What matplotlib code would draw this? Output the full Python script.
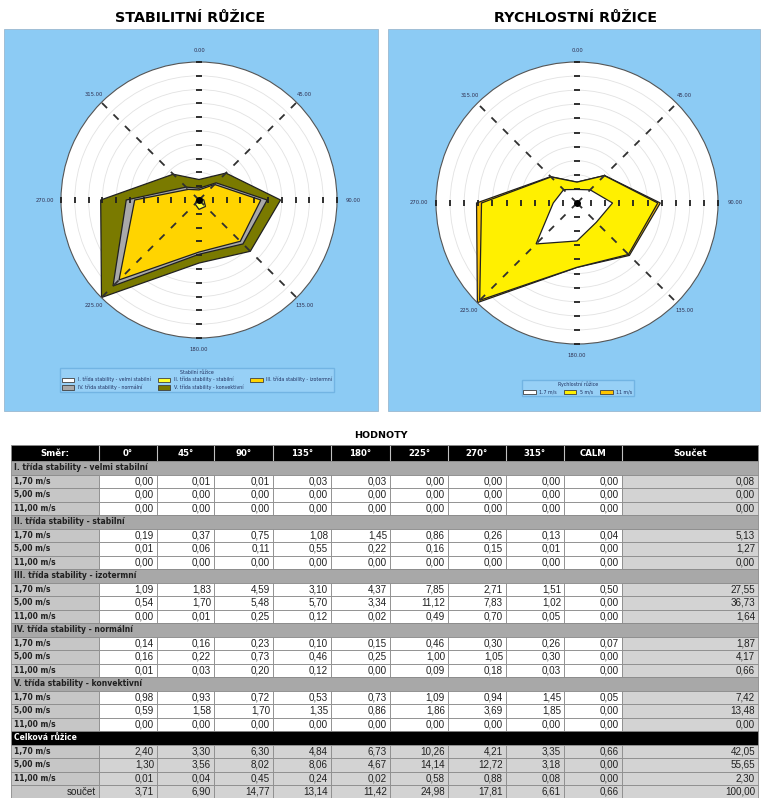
import numpy as np
import matplotlib
matplotlib.use('Agg')
import matplotlib.pyplot as plt
from matplotlib.patches import Rectangle, Patch

# --- data -------------------------------------------------------------
directions = [0, 45, 90, 135, 180, 225, 270, 315]
col_labels = ['Směr:', '0°', '45°', '90°', '135°', '180°', '225°', '270°', '315°', 'CALM', 'Součet']
speed_labels = ['1,70 m/s', '5,00 m/s', '11,00 m/s']
speed_legend = ['1.7 m/s', '5 m/s', '11 m/s']
class_names = ['I. třída stability - velmi stabilní',
               'II. třída stability - stabilní',
               'III. třída stability - izotermní',
               'IV. třída stability - normální',
               'V. třída stability - konvektivní']

# rows = 1.7, 5, 11 m/s ; columns = 0..315 deg + CALM
cls1 = [[0.00, 0.01, 0.01, 0.03, 0.03, 0.00, 0.00, 0.00, 0.00],
        [0.00, 0.00, 0.00, 0.00, 0.00, 0.00, 0.00, 0.00, 0.00],
        [0.00, 0.00, 0.00, 0.00, 0.00, 0.00, 0.00, 0.00, 0.00]]
cls2 = [[0.19, 0.37, 0.75, 1.08, 1.45, 0.86, 0.26, 0.13, 0.04],
        [0.01, 0.06, 0.11, 0.55, 0.22, 0.16, 0.15, 0.01, 0.00],
        [0.00, 0.00, 0.00, 0.00, 0.00, 0.00, 0.00, 0.00, 0.00]]
cls3 = [[1.09, 1.83, 4.59, 3.10, 4.37, 7.85, 2.71, 1.51, 0.50],
        [0.54, 1.70, 5.48, 5.70, 3.34, 11.12, 7.83, 1.02, 0.00],
        [0.00, 0.01, 0.25, 0.12, 0.02, 0.49, 0.70, 0.05, 0.00]]
cls4 = [[0.14, 0.16, 0.23, 0.10, 0.15, 0.46, 0.30, 0.26, 0.07],
        [0.16, 0.22, 0.73, 0.46, 0.25, 1.00, 1.05, 0.30, 0.00],
        [0.01, 0.03, 0.20, 0.12, 0.00, 0.09, 0.18, 0.03, 0.00]]
cls5 = [[0.98, 0.93, 0.72, 0.53, 0.73, 1.09, 0.94, 1.45, 0.05],
        [0.59, 1.58, 1.70, 1.35, 0.86, 1.86, 3.69, 1.85, 0.00],
        [0.00, 0.00, 0.00, 0.00, 0.00, 0.00, 0.00, 0.00, 0.00]]

classes = np.array([cls1, cls2, cls3, cls4, cls5])
total_by_speed = classes.sum(axis=0)          # 3 x 9
total_by_dir = total_by_speed.sum(axis=0)     # 9
class_dir = classes.sum(axis=1)[:, :8]        # 5 x 8
speed_dir = total_by_speed[:, :8]             # 3 x 8

stab_colors = ['#FFFFFF', '#FFFF30', '#FFD400', '#A9A9A9', '#7A7A00']
speed_colors = ['#FFFFFF', '#FFF000', '#FFC400']
panel_blue = '#8CCBF4'

W, H = 762, 798
fig = plt.figure(figsize=(W / 100, H / 100), dpi=100)
fig.patch.set_facecolor('white')

bg = fig.add_axes([0, 0, 1, 1])
bg.set_xlim(0, W)
bg.set_ylim(H, 0)
bg.axis('off')

# blue panels
bg.add_patch(Rectangle((4, 29), 374, 382, fc=panel_blue, ec='#9BB8D0', lw=0.6))
bg.add_patch(Rectangle((388, 29), 372, 382, fc=panel_blue, ec='#9BB8D0', lw=0.6))

fig.text(190 / W, 1 - 18 / H, 'STABILITNÍ RŮŽICE', ha='center', va='center',
         fontsize=10.3, fontweight='bold')
fig.text(575 / W, 1 - 18 / H, 'RYCHLOSTNÍ RŮŽICE', ha='center', va='center',
         fontsize=10.3, fontweight='bold')


def polar_at(cx, cy, r):
    return fig.add_axes([(cx - r) / W, (H - cy - r) / H, 2 * r / W, 2 * r / H],
                        projection='polar')


def draw_rose(ax, layers, colors):
    ax.set_theta_zero_location('N')
    ax.set_theta_direction(-1)
    theta = np.deg2rad(directions + [directions[0]])
    cum = np.cumsum(layers, axis=0)
    for vals, c in zip(cum[::-1], colors[::-1]):
        r = list(vals) + [vals[0]]
        ax.fill(theta, r, facecolor=c, edgecolor='#202020', lw=0.9, zorder=2)
    rmax = 25
    rings = np.arange(2.5, rmax + 0.01, 2.5)
    ax.set_ylim(0, rmax)
    ax.set_yticks(rings[:-1])
    ax.set_yticklabels([])
    ax.set_xticks([])
    ax.grid(axis='y', color='#E2E2E2', lw=0.6)
    ax.set_facecolor('white')
    ax.spines['polar'].set_color('#555555')
    ax.spines['polar'].set_linewidth(0.8)
    for a in [45, 135, 225, 315]:
        ax.plot([np.deg2rad(a)] * 2, [0, rmax], ls=(0, (4, 5)), color='#303030',
                lw=1.3, zorder=4)
    for a in [0, 180]:
        ax.plot([np.deg2rad(a)] * len(rings), rings, ls='none', marker='_',
                ms=5, mew=1.3, color='#202020', zorder=4, clip_on=False)
    for a in [90, 270]:
        ax.plot([np.deg2rad(a)] * len(rings), rings, ls='none', marker='|',
                ms=5, mew=1.3, color='#202020', zorder=4, clip_on=False)
    ax.plot([0], [0], 'o', ms=4, color='black', zorder=5)
    for a in directions:
        rr = 28 if a in (90, 270) else 27
        ax.text(np.deg2rad(a), rr, f'{a:.2f}', ha='center', va='center',
                fontsize=3.8, color='#303050', clip_on=False)


ax1 = polar_at(199, 200, 138)
draw_rose(ax1, class_dir, stab_colors)
ax2 = polar_at(577, 203, 141)
draw_rose(ax2, speed_dir, speed_colors)

# legends
order = [0, 3, 1, 4, 2]
h1 = [Patch(fc=stab_colors[i], ec='#404040', lw=0.6) for i in order]
leg1 = fig.legend(h1, [class_names[i] for i in order], loc='center',
                  bbox_to_anchor=(197 / W, 1 - 380 / H), ncol=3,
                  title='Stabilní růžice', fontsize=3.4, title_fontsize=3.4,
                  frameon=True, fancybox=False, handlelength=2.6, handleheight=1.1,
                  columnspacing=1.5, labelcolor='#203060')
leg1.get_frame().set_facecolor('#9AD2F7')
leg1.get_frame().set_edgecolor('#6BAEDF')
leg1.get_title().set_color('#203060')

h2 = [Patch(fc=c, ec='#404040', lw=0.6) for c in speed_colors]
leg2 = fig.legend(h2, speed_legend, loc='center',
                  bbox_to_anchor=(578 / W, 1 - 388 / H), ncol=3,
                  title='Rychlostní růžice', fontsize=3.4, title_fontsize=3.4,
                  frameon=True, fancybox=False, handlelength=2.6, handleheight=1.1,
                  columnspacing=1.5, labelcolor='#203060')
leg2.get_frame().set_facecolor('#9AD2F7')
leg2.get_frame().set_edgecolor('#6BAEDF')
leg2.get_title().set_color('#203060')

# --- table ------------------------------------------------------------
bg.text(381, 436, 'HODNOTY', ha='center', va='center', fontsize=6.8,
        fontweight='bold')

col_edges = [11, 99, 157, 214, 273, 331, 390, 448, 506, 564, 622, 758]
x0, x1 = col_edges[0], col_edges[-1]
head_top, head_h, row_h = 445, 16, 13.5
edge = '#8A8A8A'
lab_font = dict(fontsize=5.5, fontweight='bold', color='#202020')
val_font = dict(fontsize=7.1, family='Liberation Sans', color='#202020')


def fmt(v):
    return f'{v:.2f}'.replace('.', ',')


bg.add_patch(Rectangle((x0, head_top), x1 - x0, head_h, fc='black', ec=edge, lw=0.6))
for k, lab in enumerate(col_labels):
    xa, xb = col_edges[k], col_edges[k + 1]
    if k > 0:
        bg.plot([xa, xa], [head_top + 1, head_top + head_h - 1], color='#C0C0C0', lw=0.8)
    bg.text((xa + xb) / 2, head_top + head_h / 2 + 0.5, lab, ha='center', va='center',
            color='white', fontsize=6.2, fontweight='bold')


def data_row(y, label, vals, total, cell_fc, label_bold=True):
    bg.add_patch(Rectangle((x0, y), col_edges[1] - x0, row_h, fc='#C6C6C6', ec=edge, lw=0.6))
    if label_bold:
        bg.text(x0 + 3, y + row_h / 2, label, ha='left', va='center', **lab_font)
    else:
        bg.text(col_edges[1] - 3, y + row_h / 2, label, ha='right', va='center', **val_font)
    for j, v in enumerate(vals):
        xa, xb = col_edges[j + 1], col_edges[j + 2]
        bg.add_patch(Rectangle((xa, y), xb - xa, row_h, fc=cell_fc, ec=edge, lw=0.6))
        bg.text(xb - 3, y + row_h / 2, fmt(v), ha='right', va='center', **val_font)
    bg.add_patch(Rectangle((col_edges[-2], y), x1 - col_edges[-2], row_h,
                           fc='#D3D3D3', ec=edge, lw=0.6))
    bg.text(x1 - 3, y + row_h / 2, fmt(total), ha='right', va='center', **val_font)


y = head_top + head_h
for ci, cname in enumerate(class_names):
    bg.add_patch(Rectangle((x0, y), x1 - x0, row_h, fc='#A8A8A8', ec=edge, lw=0.6))
    bg.text(x0 + 3, y + row_h / 2, cname, ha='left', va='center', **lab_font)
    y += row_h
    for si, sl in enumerate(speed_labels):
        vals = classes[ci, si]
        data_row(y, sl, vals, vals.sum(), 'white')
        y += row_h

bg.add_patch(Rectangle((x0, y), x1 - x0, row_h, fc='black', ec=edge, lw=0.6))
bg.text(x0 + 3, y + row_h / 2, 'Celková růžice', ha='left', va='center',
        fontsize=5.5, fontweight='bold', color='white')
y += row_h
for si, sl in enumerate(speed_labels):
    vals = total_by_speed[si]
    data_row(y, sl, vals, vals.sum(), '#D3D3D3')
    y += row_h
data_row(y, 'součet', total_by_dir, total_by_dir.sum(), '#D3D3D3', label_bold=False)

fig.savefig('out.png', dpi=100)
